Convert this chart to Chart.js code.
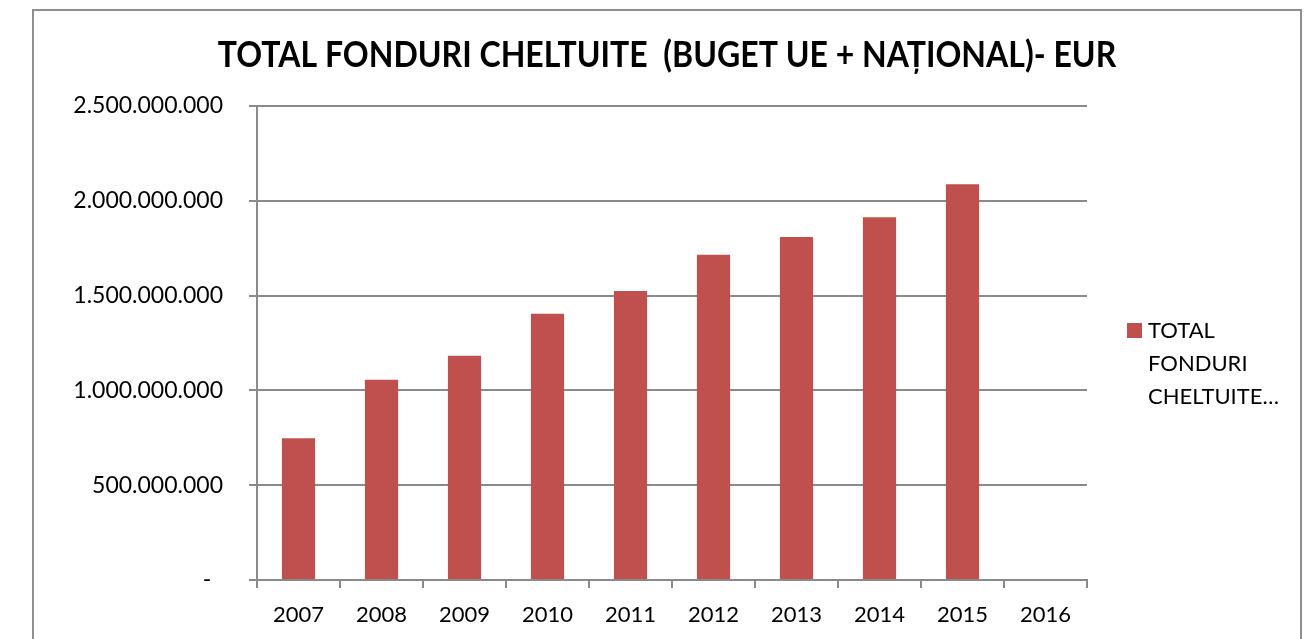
<!DOCTYPE html>
<html>
<head>
<meta charset="utf-8">
<title>Total fonduri cheltuite</title>
<script src="https://cdn.jsdelivr.net/npm/chart.js@4/dist/chart.umd.min.js"></script>
<style>
  html, body { margin: 0; padding: 0; background: #fff; }
  #wrap { width: 1307px; height: 639px; position: relative; }
</style>
</head>
<body>
<div id="wrap"><canvas id="grafic"></canvas></div>
<script>
const ani = ['2007', '2008', '2009', '2010', '2011', '2012', '2013', '2014', '2015', '2016'];
const fonduri = [748000000, 1056000000, 1183000000, 1404000000, 1524000000, 1716000000, 1809000000, 1913000000, 2087000000, null];
const numeSerie = 'TOTAL FONDURI CHELTUITE  (BUGET UE + NAȚIONAL)- EUR';
const titlu = 'TOTAL FONDURI CHELTUITE  (BUGET UE + NAȚIONAL)- EUR';
const liniiLegenda = ['TOTAL', 'FONDURI', 'CHELTUITE…'];

const culoareBara = '#C0504D';
const culoareAxa = '#8a8a8a';
const font = 'Lato';

// chenarul exterior + titlul (titlul putin ingustat pe orizontala)
const chenar = {
    id: 'chenar',
    beforeDraw(chart) {
        const ctx = chart.ctx;
        ctx.save();
        ctx.strokeStyle = '#8f8f8f';
        ctx.lineWidth = 2;
        ctx.strokeRect(33, 10, 1268, 660);
        ctx.fillStyle = '#000';
        ctx.font = 'bold 36px ' + font;
        ctx.textAlign = 'center';
        ctx.textBaseline = 'middle';
        ctx.translate(667, 55);
        ctx.scale(0.89, 1);
        ctx.fillText(titlu, 0, 0);
        ctx.restore();
    }
};

// legenda pe trei randuri, in dreapta
const legenda = {
    id: 'legenda',
    afterDraw(chart) {
        const ctx = chart.ctx;
        ctx.save();
        ctx.fillStyle = chart.data.datasets[0].backgroundColor;
        ctx.fillRect(1127, 323, 15, 15);
        ctx.fillStyle = '#000';
        ctx.font = '22px ' + font;
        ctx.textAlign = 'left';
        ctx.textBaseline = 'middle';
        for (let i = 0; i < liniiLegenda.length; i++) {
            ctx.fillText(liniiLegenda[i], 1148, 331 + i * 33);
        }
        ctx.restore();
    }
};

new Chart(document.getElementById('grafic'), {
    type: 'bar',
    data: {
        labels: ani,
        datasets: [{
            label: numeSerie,
            data: fonduri,
            backgroundColor: culoareBara,
            borderWidth: 0,
            barPercentage: 0.4,
            categoryPercentage: 1
        }]
    },
    options: {
        responsive: true,
        maintainAspectRatio: false,
        animation: false,
        layout: { padding: { left: 33, right: 220, top: 106, bottom: 0 } },
        plugins: {
            legend: { display: false },
            title: { display: false },
            tooltip: { enabled: false }
        },
        scales: {
            x: {
                afterFit(scale) { scale.height = 59; },
                grid: {
                    offset: true,
                    drawOnChartArea: false,
                    color: culoareAxa,
                    lineWidth: 2,
                    tickLength: 8
                },
                border: { color: culoareAxa, width: 2 },
                ticks: {
                    color: '#000',
                    padding: 14,
                    font: { family: font, size: 22 }
                }
            },
            y: {
                min: 0,
                max: 2500000000,
                afterFit(scale) { scale.width = 224; },
                grid: {
                    color: culoareAxa,
                    lineWidth: 2,
                    tickLength: 8
                },
                border: { color: culoareAxa, width: 2 },
                ticks: {
                    stepSize: 500000000,
                    color: '#000',
                    padding: 26,
                    font: { family: font, size: 23 },
                    callback: v => v === 0 ? '-  ' : v.toLocaleString('de-DE')
                }
            }
        }
    },
    plugins: [chenar, legenda]
});
</script>
</body>
</html>
